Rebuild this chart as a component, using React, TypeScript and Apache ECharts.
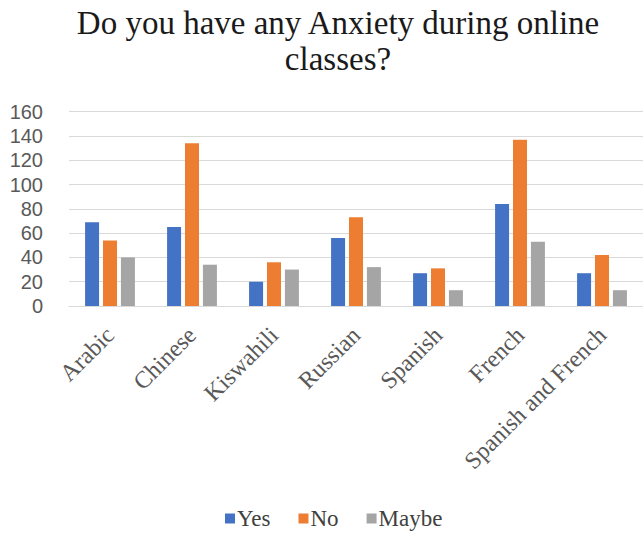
import React, { useEffect, useRef } from "react";
import * as echarts from "echarts";

const categories = ["Arabic", "Chinese", "Kiswahili", "Russian", "Spanish", "French", "Spanish and French"];
const yesValues = [69, 65, 20, 56, 27, 84, 27];
const noValues = [54, 134, 36, 73, 31, 137, 42];
const maybeValues = [40, 34, 30, 32, 13, 53, 13];
const seriesNames = ["Yes", "No", "Maybe"];
const titleText = "Do you have any Anxiety during online\nclasses?";

export default function App() {
  const ref = useRef<HTMLDivElement>(null);
  useEffect(() => {
    if (!ref.current) return;
    const chart = echarts.init(ref.current, null, { renderer: "svg" });
    const barCommon = { type: "bar", barWidth: 14, barGap: "28%" };
    chart.setOption({
      animation: false,
      backgroundColor: "#ffffff",
      title: {
        text: titleText,
        left: 333,
        textAlign: "center",
        top: 0,
        textStyle: {
          fontFamily: "Liberation Serif",
          fontSize: 33,
          fontWeight: "normal",
          color: "#1a1a1a",
          lineHeight: 36,
        },
      },
      legend: {
        data: seriesNames,
        top: 507,
        left: 225,
        padding: 0,
        itemWidth: 10,
        itemHeight: 10,
        itemGap: 28,
        icon: "rect",
        textStyle: { fontFamily: "Liberation Serif", fontSize: 23, color: "#404040", padding: [0, 0, 0, -3] },
      },
      grid: { left: 69, right: -5, top: 111.7, height: 194.3, containLabel: false },
      xAxis: {
        type: "category",
        data: categories,
        axisTick: { show: false },
        axisLine: { lineStyle: { color: "#d9d9d9", width: 1 } },
        axisLabel: {
          rotate: 45,
          interval: 0,
          margin: 25,
          fontFamily: "Liberation Serif",
          fontSize: 24,
          color: "#595959",
        },
      },
      yAxis: {
        type: "value",
        min: 0,
        max: 160,
        interval: 20,
        axisLine: { show: false },
        axisTick: { show: false },
        splitLine: { lineStyle: { color: "#d9d9d9", width: 1 } },
        axisLabel: {
          margin: 26,
          fontFamily: "Liberation Sans",
          fontSize: 20,
          color: "#595959",
        },
      },
      series: [
        { ...barCommon, name: seriesNames[0], data: yesValues, itemStyle: { color: "#4472C4" } },
        { ...barCommon, name: seriesNames[1], data: noValues, itemStyle: { color: "#ED7D31" } },
        { ...barCommon, name: seriesNames[2], data: maybeValues, itemStyle: { color: "#A5A5A5" } },
      ],
    });
    return () => chart.dispose();
  }, []);
  return <div ref={ref} style={{ width: 643, height: 534, position: "absolute", left: 0, top: 0 }} />;
}
